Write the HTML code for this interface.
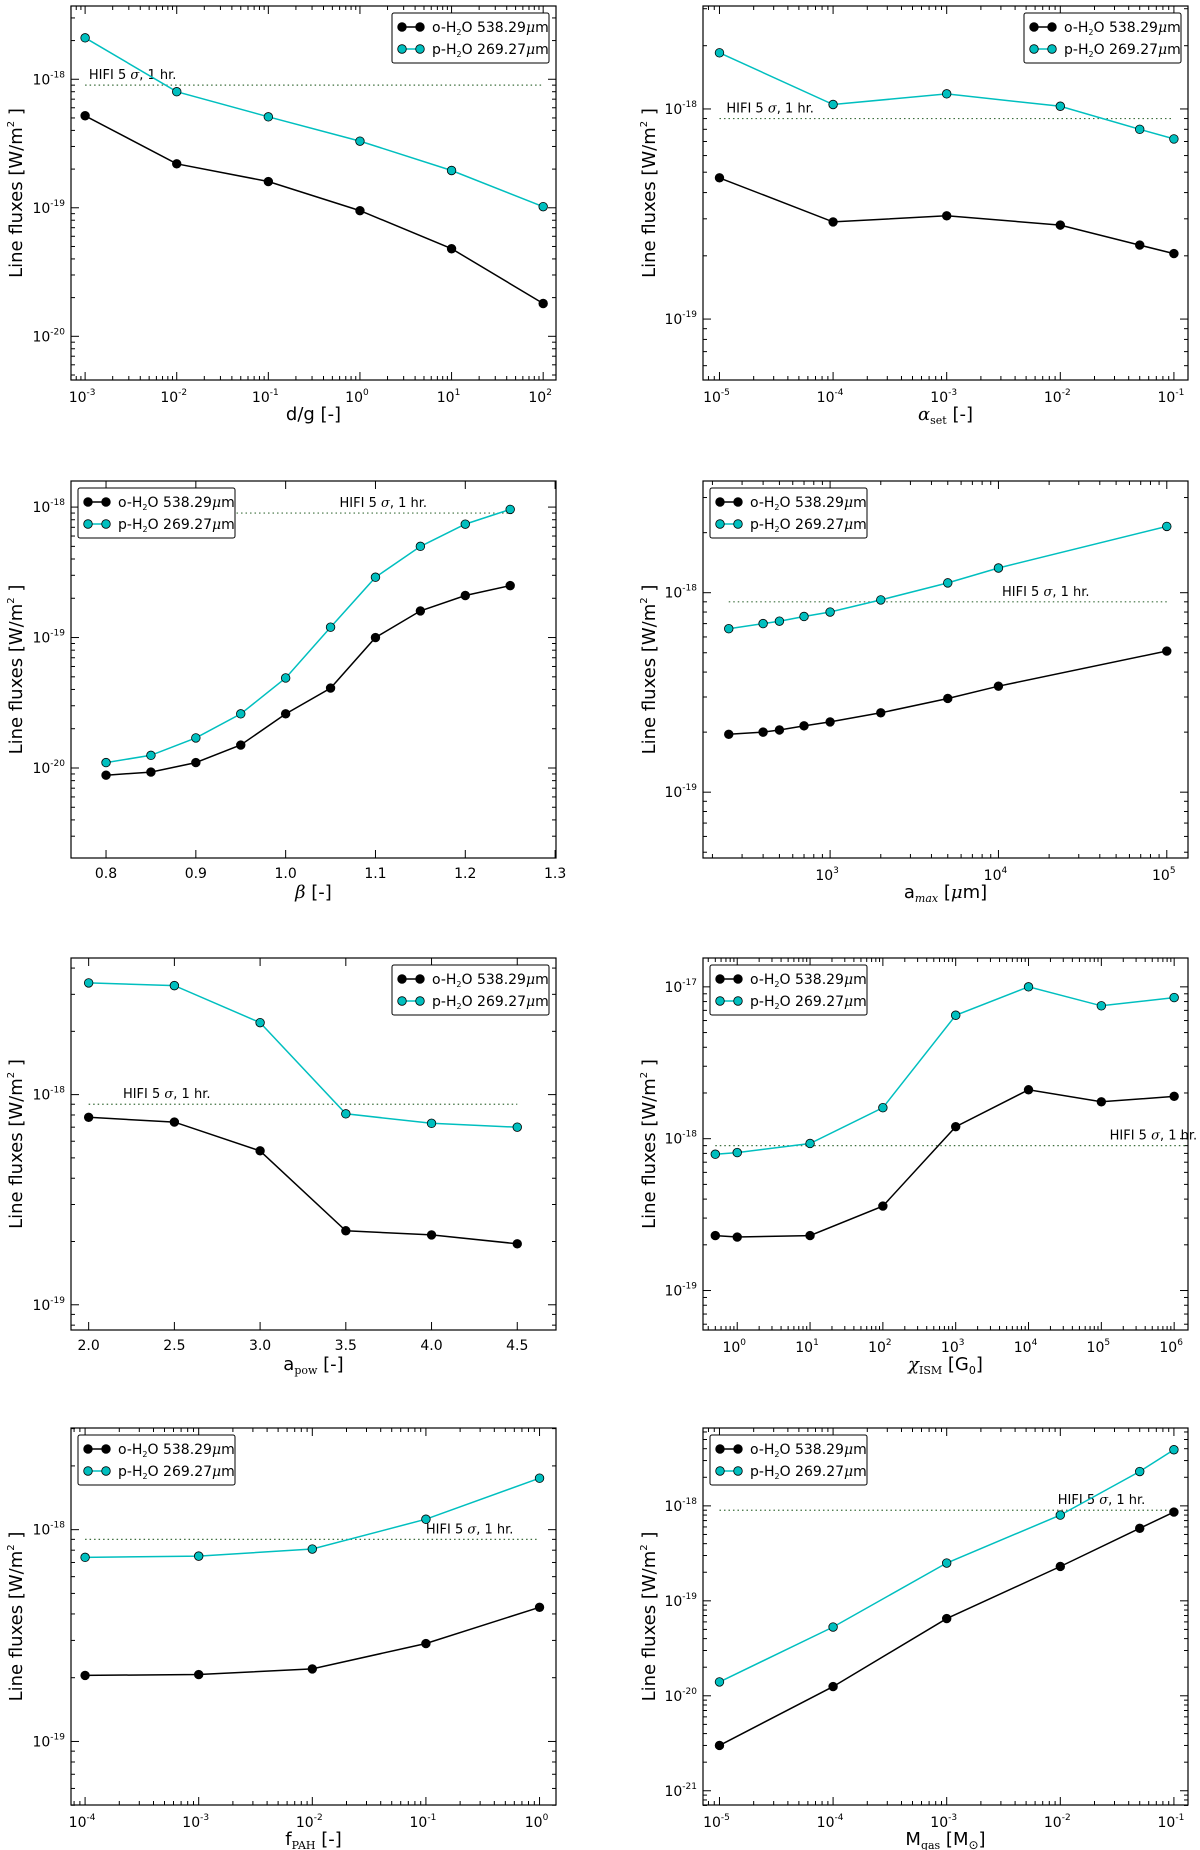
<!DOCTYPE html>
<html><head><meta charset="utf-8">
<style>
html,body{margin:0;padding:0;background:#fff;}
svg{display:block;font-family:"DejaVu Sans","Liberation Sans",sans-serif;}
</style></head>
<body>
<svg id="fig" width="1200" height="1850" viewBox="0 0 1200 1850" xmlns="http://www.w3.org/2000/svg"></svg>
<script>
// ---- data ----
const p1x = [1e-3, 1e-2, 1e-1, 1, 10, 100];
const p1o = [5.2e-19, 2.2e-19, 1.6e-19, 9.5e-20, 4.8e-20, 1.8e-20];
const p1p = [2.1e-18, 8e-19, 5.1e-19, 3.3e-19, 1.95e-19, 1.02e-19];
const p2x = [1e-5, 1e-4, 1e-3, 1e-2, 5e-2, 1e-1];
const p2o = [4.7e-19, 2.9e-19, 3.1e-19, 2.8e-19, 2.25e-19, 2.05e-19];
const p2p = [1.85e-18, 1.05e-18, 1.18e-18, 1.03e-18, 8e-19, 7.2e-19];
const p3x = [0.8, 0.85, 0.9, 0.95, 1.0, 1.05, 1.1, 1.15, 1.2, 1.25];
const p3o = [8.8e-21, 9.3e-21, 1.1e-20, 1.5e-20, 2.6e-20, 4.1e-20, 1e-19, 1.6e-19, 2.1e-19, 2.5e-19];
const p3p = [1.1e-20, 1.25e-20, 1.7e-20, 2.6e-20, 4.9e-20, 1.2e-19, 2.9e-19, 5e-19, 7.4e-19, 9.6e-19];
const p4x = [250, 400, 500, 700, 1000, 2000, 5000, 10000, 100000];
const p4o = [1.95e-19, 2.0e-19, 2.05e-19, 2.15e-19, 2.25e-19, 2.5e-19, 2.95e-19, 3.4e-19, 5.1e-19];
const p4p = [6.6e-19, 7e-19, 7.2e-19, 7.6e-19, 8e-19, 9.2e-19, 1.12e-18, 1.33e-18, 2.15e-18];
const p5x = [2, 2.5, 3, 3.5, 4, 4.5];
const p5o = [7.8e-19, 7.4e-19, 5.4e-19, 2.25e-19, 2.15e-19, 1.95e-19];
const p5p = [3.4e-18, 3.3e-18, 2.2e-18, 8.1e-19, 7.3e-19, 7e-19];
const p6x = [0.5, 1, 10, 100, 1000, 1e4, 1e5, 1e6];
const p6o = [2.3e-19, 2.25e-19, 2.3e-19, 3.6e-19, 1.2e-18, 2.1e-18, 1.75e-18, 1.9e-18];
const p6p = [7.9e-19, 8.1e-19, 9.3e-19, 1.6e-18, 6.5e-18, 1e-17, 7.5e-18, 8.5e-18];
const p7x = [1e-4, 1e-3, 1e-2, 1e-1, 1];
const p7o = [2.05e-19, 2.07e-19, 2.2e-19, 2.9e-19, 4.3e-19];
const p7p = [7.4e-19, 7.5e-19, 8.1e-19, 1.12e-18, 1.75e-18];
const p8x = [1e-5, 1e-4, 1e-3, 1e-2, 5e-2, 1e-1];
const p8o = [3e-21, 1.25e-20, 6.5e-20, 2.3e-19, 5.8e-19, 8.6e-19];
const p8p = [1.4e-20, 5.3e-20, 2.5e-19, 8e-19, 2.3e-18, 3.9e-18];
const hifiLevel = 9e-19;
const linTicks3 = [0.8, 0.9, 1.0, 1.1, 1.2, 1.3];
const linTicks5 = [2.0, 2.5, 3.0, 3.5, 4.0, 4.5];

const NS = "http://www.w3.org/2000/svg";
const svg = document.getElementById('fig');
function mk(tag, attrs, parent) {
  const e = document.createElementNS(NS, tag);
  for (const k in attrs) e.setAttribute(k, attrs[k]);
  (parent || svg).appendChild(e);
  return e;
}
const LX = [71, 703], RW = 485;
const ROWS = [[6, 380], [481, 858], [958, 1330], [1428, 1805]];

const panels = [
  {name:'dg', col:0,row:0, xs:p1x,o:p1o,p:p1p, xlog:true, xr:[-3.154,2.14], yr:[-20.34,-17.43], leg:'right', hx:[1e-3,100], htx:1.1e-3, xlab:'dg'},
  {name:'alpha-set', col:1,row:0, xs:p2x,o:p2o,p:p2p, xlog:true, xr:[-5.145,-0.876], yr:[-19.29,-17.51], leg:'right', hx:[1e-5,0.1], htx:1.15e-5, xlab:'alpha'},
  {name:'beta', col:0,row:1, xs:p3x,o:p3o,p:p3p, xlog:false, xr:[0.761,1.301], yr:[-20.69,-17.8], leg:'left', hx:[0.8,1.25], htx:1.06, xlab:'beta', lt:linTicks3},
  {name:'a-max', col:1,row:1, xs:p4x,o:p4o,p:p4p, xlog:true, xr:[2.245,5.126], yr:[-19.33,-17.44], leg:'left', hx:[250,1e5], htx:1.05e4, xlab:'amax'},
  {name:'a-pow', col:0,row:2, xs:p5x,o:p5o,p:p5p, xlog:false, xr:[1.897,4.726], yr:[-19.12,-17.35], leg:'right', hx:[2,4.5], htx:2.2, xlab:'apow', lt:linTicks5},
  {name:'chi-ism', col:1,row:2, xs:p6x,o:p6o,p:p6p, xlog:true, xr:[-0.47,6.19], yr:[-19.26,-16.81], leg:'left', hx:[0.5,2e6], htx:1.3e5, xlab:'chi'},
  {name:'f-pah', col:0,row:3, xs:p7x,o:p7o,p:p7p, xlog:true, xr:[-4.124,0.145], yr:[-19.3,-17.52], leg:'left', hx:[1e-4,1], htx:0.1, xlab:'fpah'},
  {name:'m-gas', col:1,row:3, xs:p8x,o:p8o,p:p8p, xlog:true, xr:[-5.145,-0.876], yr:[-21.15,-17.18], leg:'left', hx:[1e-5,0.1], htx:9.5e-3, xlab:'mgas'}
];

function sup(t, base, exp) {
  t.textContent = '';
  const a = mk('tspan', {}, t); a.textContent = base;
  const b = mk('tspan', {dy:-7, 'font-size':'9'}, t); b.textContent = exp;
}

panels.forEach(P => {
  const x0 = LX[P.col], x1 = x0 + RW, y0 = ROWS[P.row][0], y1 = ROWS[P.row][1];
  const g = mk('g', {});
  
  
  const X = v => { const t = P.xlog ? Math.log10(v) : v; return x0 + (t - P.xr[0]) / (P.xr[1] - P.xr[0]) * (x1 - x0); };
  const Y = v => y1 - (Math.log10(v) - P.yr[0]) / (P.yr[1] - P.yr[0]) * (y1 - y0);
  const inX = px => px >= x0 - 0.5 && px <= x1 + 0.5;
  const inY = py => py >= y0 - 0.5 && py <= y1 + 0.5;
  const tg = mk('g', {stroke:'#000','stroke-width':1}, g);
  
  
  for (let d = Math.floor(P.yr[0]); d <= Math.ceil(P.yr[1]); d++) {
    for (let m = 1; m < 10; m++) {
      const py = Y(m * Math.pow(10, d));
      if (!inY(py)) continue;
      const L = m === 1 ? 8 : 4;
      mk('line', {x1:x0,x2:x0+L,y1:py,y2:py}, tg);
      mk('line', {x1:x1,x2:x1-L,y1:py,y2:py}, tg);
      if (m === 1) {
        const t = mk('text', {x:x0-6, y:py+5, 'text-anchor':'end', 'font-size':'14', fill:'#000', stroke:'none'}, g);
        
        
        sup(t, '10', '-' + Math.abs(d));
      }
    }
  }
  if (P.xlog) {
    for (let d = Math.floor(P.xr[0]); d <= Math.ceil(P.xr[1]); d++) {
      for (let m = 1; m < 10; m++) {
        const px = X(m * Math.pow(10, d));
        if (!inX(px)) continue;
        const L = m === 1 ? 8 : 4;
        mk('line', {x1:px,x2:px,y1:y1,y2:y1-L}, tg);
        mk('line', {x1:px,x2:px,y1:y0,y2:y0+L}, tg);
        if (m === 1) {
          const t = mk('text', {x:px-3, y:y1+22, 'text-anchor':'middle', 'font-size':'14', fill:'#000', stroke:'none'}, g);
          
          
          sup(t, '10', String(d));
        }
      }
    }
  } else {
    P.lt.forEach(v => {
      const px = X(v);
      mk('line', {x1:px,x2:px,y1:y1,y2:y1-8}, tg);
      mk('line', {x1:px,x2:px,y1:y0,y2:y0+8}, tg);
      const t = mk('text', {x:px, y:y1+20, 'text-anchor':'middle', 'font-size':'14', fill:'#000', stroke:'none'}, g);
      
      
      t.textContent = v.toFixed(1);
    });
  }
  const hy = Y(hifiLevel);
  const hl = mk('line', {x1:X(P.hx[0]), x2:Math.min(X(P.hx[1]), x1), y1:hy, y2:hy, stroke:'#3c6e3c', 'stroke-width':1.2, 'stroke-dasharray':'1.5,3'}, g);
  
  
  const ht = mk('text', {x:X(P.htx), y:hy-6, 'font-size':'13', fill:'#000'}, g);
  
  
  ht.innerHTML = 'HIFI 5 <tspan font-style="italic" font-family="DejaVu Serif">σ</tspan>, 1 hr.';
  [[P.o, '#000', 'o-h2o'], [P.p, '#00bfbf', 'p-h2o']].forEach(([ys, col, nm]) => {
    const pts = P.xs.map((v, i) => X(v).toFixed(1) + ',' + Y(ys[i]).toFixed(1)).join(' ');
    const pl = mk('polyline', {points:pts, fill:'none', stroke:col, 'stroke-width':1.5}, g);
    
    
    P.xs.forEach((v, i) => {
      const c = mk('circle', {cx:X(v), cy:Y(ys[i]), r:4.3, fill:col, stroke:'#000', 'stroke-width':0.8}, g);
      
      
    });
  });
  const fr = mk('rect', {x:x0, y:y0, width:x1-x0, height:y1-y0, fill:'none', stroke:'#000', 'stroke-width':1.2}, g);
  
  
  const lw = 157, lh = 50;
  const lx = P.leg === 'right' ? x1 - lw - 7 : x0 + 7, ly = y0 + 7;
  const lg = mk('g', {}, g);
  
  
  mk('rect', {x:lx, y:ly, width:lw, height:lh, rx:2, fill:'#fff', stroke:'#000', 'stroke-width':1}, lg);
  [['#000', 'o-H', '538.29'], ['#00bfbf', 'p-H', '269.27']].forEach(([col, pre, wl], i) => {
    const yy = ly + 14 + i * 22;
    const e = mk('g', {}, lg);
    
    
    mk('line', {x1:lx+10, x2:lx+28, y1:yy, y2:yy, stroke:col, 'stroke-width':1.5}, e);
    mk('circle', {cx:lx+10, cy:yy, r:4.3, fill:col, stroke:'#000', 'stroke-width':0.8}, e);
    mk('circle', {cx:lx+28, cy:yy, r:4.3, fill:col, stroke:'#000', 'stroke-width':0.8}, e);
    const t = mk('text', {x:lx+40, y:yy+5, 'font-size':'14', fill:'#000'}, e);
    t.innerHTML = pre + '<tspan font-size="8" dy="3">2</tspan><tspan dy="-3">O ' + wl + '</tspan><tspan font-style="italic" font-family="DejaVu Serif">μ</tspan>m';
  });
  const ylx = P.col === 0 ? 22 : 655;
  const yl = mk('text', {x:ylx, y:(y0+y1)/2, transform:'rotate(-90 ' + ylx + ' ' + (y0+y1)/2 + ')', 'text-anchor':'middle', 'font-size':'18', fill:'#000'}, g);
  
  
  yl.innerHTML = 'Line fluxes [W/m<tspan font-size="10" dy="-8">2</tspan><tspan dy="8"> ]</tspan>';
  const xl = mk('text', {x:(x0+x1)/2, y:y1+40, 'text-anchor':'middle', 'font-size':'18', fill:'#000'}, g);
  
  
  const S = 'font-family="DejaVu Serif"';
  const labs = {
    dg: 'd/g [-]',
    alpha: '<tspan font-style="italic" ' + S + '>α</tspan><tspan font-size="11" dy="4" ' + S + '>set</tspan><tspan dy="-4"> [-]</tspan>',
    beta: '<tspan font-style="italic" ' + S + '>β</tspan> [-]',
    amax: 'a<tspan font-size="11" dy="4" font-style="italic" ' + S + '>max</tspan><tspan dy="-4"> [</tspan><tspan font-style="italic" ' + S + '>μ</tspan>m]',
    apow: 'a<tspan font-size="11" dy="4" ' + S + '>pow</tspan><tspan dy="-4"> [-]</tspan>',
    chi: '<tspan font-style="italic" ' + S + '>χ</tspan><tspan font-size="11" dy="4" ' + S + '>ISM</tspan><tspan dy="-4"> [G</tspan><tspan font-size="11" dy="4">0</tspan><tspan dy="-4">]</tspan>',
    fpah: 'f<tspan font-size="11" dy="4" ' + S + '>PAH</tspan><tspan dy="-4"> [-]</tspan>',
    mgas: 'M<tspan font-size="11" dy="4" ' + S + '>gas</tspan><tspan dy="-4"> [M</tspan><tspan font-size="12" dy="4">⊙</tspan><tspan dy="-4">]</tspan>'
  };
  xl.innerHTML = labs[P.xlab];
});
</script>
</body></html>
